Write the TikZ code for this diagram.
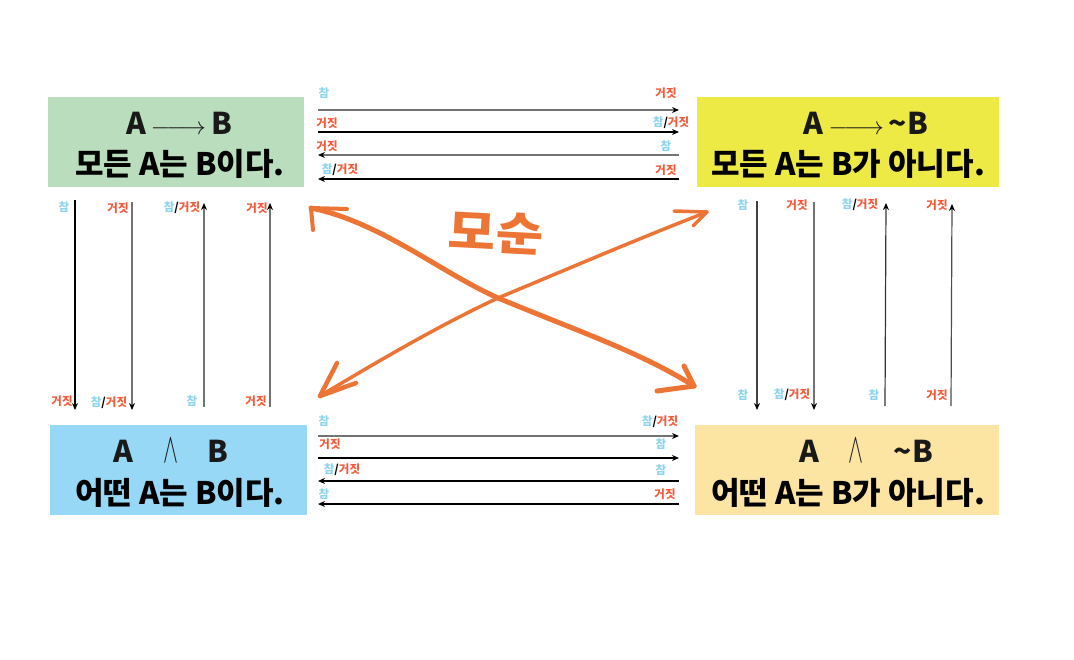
\documentclass[tikz,border=0pt]{standalone}
\usepackage{fontspec}
\usetikzlibrary{arrows.meta}
\newfontfamily\kr{Noto Sans CJK KR}
\definecolor{boxgreen}{HTML}{B9DDBD}
\definecolor{boxyellow}{HTML}{EDE945}
\definecolor{boxblue}{HTML}{96D8F5}
\definecolor{boxbeige}{HTML}{FCE5A3}
\definecolor{tblue}{HTML}{8ED4EE}
\definecolor{fred}{HTML}{F25A3A}
\definecolor{orng}{HTML}{EC7434}
\newcommand\lblT{\textcolor{tblue}{참}}
\newcommand\lblF{\textcolor{fred}{거짓}}
\newcommand\lblTF{\lblT\textcolor{black}{/}\lblF}
\newcommand\myimp{{\normalfont$\relbar\joinrel\longrightarrow$}}
\newcommand\myand{{\normalfont\scalebox{0.9}[1.7]{$\wedge$}}}
\tikzset{
  bigbox/.style={draw=none, inner sep=0pt},
  head/.style={font=\kr\bfseries\fontsize{30}{30}\selectfont, inner sep=0pt, text=black!90},
  sent/.style={font=\kr\bfseries\fontsize{31}{31}\selectfont, inner sep=0pt, text=black},
  tl/.style={font=\kr\bfseries\fontsize{11.5}{11.5}\selectfont, inner sep=0pt},
  ga/.style={line width=1.4pt, draw=black!55, -{Stealth[black,length=7pt,width=6pt]}},
  ba/.style={line width=1.2pt, draw=black, -{Stealth[black,length=7pt,width=6pt]}},
  oline/.style={draw=orng, line cap=round, line join=round},
}
\begin{document}
\begin{tikzpicture}[x=1pt,y=-1pt]
\useasboundingbox (0,0) rectangle (1074,659);
% boxes
\node[bigbox, fill=boxgreen, minimum width=256pt, minimum height=90pt] (g) at (176,142) {};
\node[bigbox, fill=boxyellow, minimum width=302pt, minimum height=90pt] (y) at (848,142) {};
\node[bigbox, fill=boxblue, minimum width=257pt, minimum height=90pt] (b) at (178.5,470) {};
\node[bigbox, fill=boxbeige, minimum width=304pt, minimum height=90pt] (e) at (847,470) {};
% box texts
\node[head] (g1) at (179,123) {A\,\myimp\,B};
\node[sent] (g2) at (180,164) {모든 A는 B이다.};
\node[head] (y1) at (866,123) {A\,\myimp\,\textasciitilde B};
\node[sent] (y2) at (848,164) {모든 A는 B가 아니다.};
\node[head] (b1) at (171,451) {A\quad\myand\quad B};
\node[sent] (b2) at (180,493) {어떤 A는 B이다.};
\node[head] (e1) at (866,451) {A\quad\myand\quad\textasciitilde B};
\node[sent] (e2) at (848,493) {어떤 A는 B가 아니다.};
% top horizontal arrows
\coordinate (t1l) at (318,110); \coordinate (t1r) at (679,110);
\coordinate (t2l) at (318,132); \coordinate (t2r) at (679,132);
\coordinate (t3l) at (318,155); \coordinate (t3r) at (679,155);
\coordinate (t4l) at (318,179); \coordinate (t4r) at (679,179);
\draw[ga] (t1l) -- (t1r);
\draw[ba] (t2l) -- (t2r);
\draw[ga] (t3r) -- (t3l);
\draw[ba] (t4r) -- (t4l);
\node[tl] (a1) at (324,93) {\lblT};   \node[tl] (a2) at (666,93) {\lblF};
\node[tl] (a3) at (327,123) {\lblF};  \node[tl] (a4) at (671,123) {\lblTF};
\node[tl] (a5) at (327,146) {\lblF};  \node[tl] (a6) at (666,146) {\lblT};
\node[tl] (a7) at (340,170) {\lblTF}; \node[tl] (a8) at (666,170) {\lblF};
% bottom horizontal arrows
\coordinate (u1l) at (318,436); \coordinate (u1r) at (679,436);
\coordinate (u2l) at (318,458); \coordinate (u2r) at (679,458);
\coordinate (u3l) at (318,481); \coordinate (u3r) at (679,481);
\coordinate (u4l) at (318,504); \coordinate (u4r) at (679,504);
\draw[ga] (u1l) -- (u1r);
\draw[ba] (u2l) -- (u2r);
\draw[ba] (u3r) -- (u3l);
\draw[ba] (u4r) -- (u4l);
\node[tl] (c1) at (324,421) {\lblT};   \node[tl] (c2) at (660,422) {\lblTF};
\node[tl] (c3) at (330,444) {\lblF};   \node[tl] (c4) at (661,444) {\lblT};
\node[tl] (c5) at (342,470) {\lblTF};  \node[tl] (c6) at (661,470) {\lblT};
\node[tl] (c7) at (324,494) {\lblT};   \node[tl] (c8) at (665,494) {\lblF};
% left verticals
\coordinate (l1t) at (75,200);  \coordinate (l1b) at (75,410);
\coordinate (l2t) at (132,202); \coordinate (l2b) at (132,410);
\coordinate (l3t) at (204,203); \coordinate (l3b) at (204,407);
\coordinate (l4t) at (270,203); \coordinate (l4b) at (270,407);
\draw[ba] (l1t) -- (l1b);
\draw[ga] (l2t) -- (l2b);
\draw[ga] (l3b) -- (l3t);
\draw[ga] (l4b) -- (l4t);
\node[tl] (d1) at (64,207) {\lblT};   \node[tl] (d2) at (62,401) {\lblF};
\node[tl] (d3) at (118,208) {\lblF};  \node[tl] (d4) at (109,403) {\lblTF};
\node[tl] (d5) at (182,208) {\lblTF}; \node[tl] (d6) at (192,401) {\lblT};
\node[tl] (d7) at (257,208) {\lblF};  \node[tl] (d8) at (256,401) {\lblF};
% right verticals
\coordinate (r1t) at (757,201); \coordinate (r1b) at (757,410);
\coordinate (r2t) at (814,202); \coordinate (r2b) at (814,410);
\coordinate (r3t) at (886,203); \coordinate (r3b) at (885,406);
\coordinate (r4t) at (952,204); \coordinate (r4b) at (951,406);
\draw[ba,draw=black!75] (r1t) -- (r1b);
\draw[ga] (r2t) -- (r2b);
\draw[ba,draw=black!80] (r3b) -- (r3t);
\draw[ba,draw=black!70] (r4b) -- (r4t);
\node[tl] (f1) at (743,205) {\lblT};   \node[tl] (f2) at (743,395) {\lblT};
\node[tl] (f3) at (797,205) {\lblF};   \node[tl] (f4) at (792,395) {\lblTF};
\node[tl] (f5) at (860,205) {\lblTF};  \node[tl] (f6) at (874,395) {\lblT};
\node[tl] (f7) at (937,205) {\lblF};   \node[tl] (f8) at (937,395) {\lblF};
% orange contradiction arrows
\coordinate (p1) at (311,208);
\coordinate (x0) at (498,298);
\coordinate (p2) at (694,386);
\coordinate (q1) at (320,396);
\coordinate (q2) at (707,212);
\draw[oline, line width=5pt] (p1) .. controls (380,222) and (440,272) .. (x0)
   .. controls (580,332) and (640,352) .. (p2);
\draw[oline, line width=4pt] (p1) -- (347,209);
\draw[oline, line width=4pt] (p1) -- (313,230);
\draw[oline, line width=5pt] (p2) -- (684,366);
\draw[oline, line width=5pt] (p2) -- (657,391);
\draw[oline, line width=3.5pt] (q1) .. controls (380,360) and (440,325) .. (x0)
   .. controls (570,268) and (640,238) .. (q2);
\draw[oline, line width=4.5pt] (q1) -- (337,363);
\draw[oline, line width=4.5pt] (q1) -- (356,383);
\draw[oline, line width=3.5pt] (q2) -- (674,211);
\draw[oline, line width=3.5pt] (q2) -- (693,226);
\node[font=\kr\bfseries\fontsize{46}{46}\selectfont, text=orng, inner sep=0pt, rotate=-3, xscale=1.12] (ms) at (496,233) {모순};
\end{tikzpicture}
\end{document}
